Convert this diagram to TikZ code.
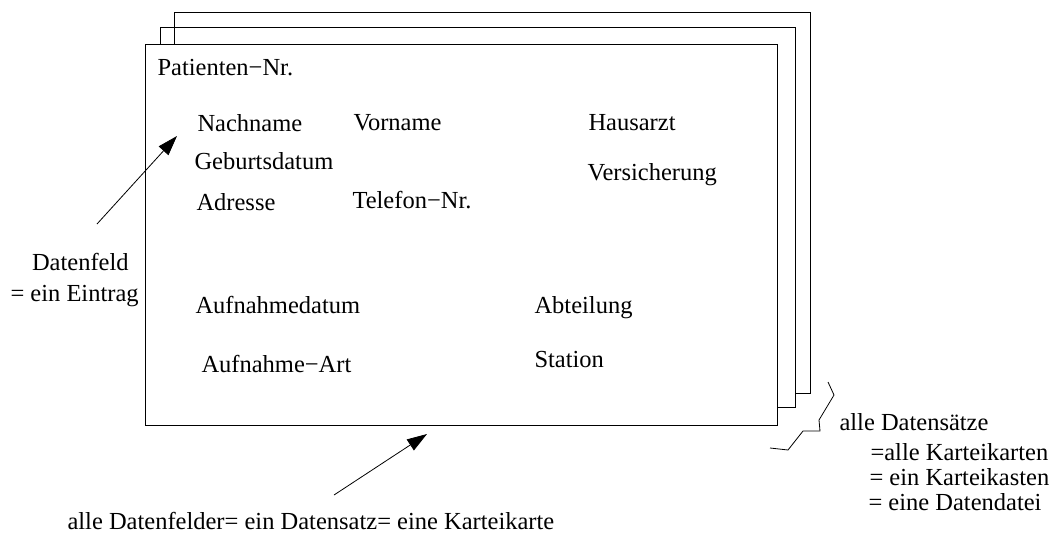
\documentclass[tikz,border=0pt]{standalone}
\usepackage{fontspec}
\setmainfont{Liberation Serif}
\usetikzlibrary{arrows.meta}
\tikzset{
  field/.style={anchor=base west, inner sep=0pt},
  pointer/.style={-{Triangle[length=20pt,width=13pt]}, line width=0.8pt}
}
\begin{document}
\begin{tikzpicture}[x=1pt,y=-1pt,line width=1pt]
        \useasboundingbox (0,0) rectangle (1056,533);
        \fontsize{24.5}{29}\selectfont
        % --- Draw the stack of cards ---
        \draw (174,44) -- (174,12) -- (810,12) -- (810,393) -- (795,393);
        \draw (160,44) -- (160,27) -- (795,27) -- (795,407) -- (777,407);
        \draw (145,44) rectangle (777,425);
        % ---

        % --- Fields of one card ---
        \node[field] (patnr) at (157,75.5) {Patienten−Nr.};
        \node[field] (nachname) at (197,131.5) {Nachname};
        \node[field] (vorname) at (353,130) {Vorname};
        \node[field] (hausarzt) at (588,130) {Hausarzt};
        \node[field] (geburt) at (194,169.5) {Geburtsdatum};
        \node[field] (versich) at (587,180.5) {Versicherung};
        \node[field] (adresse) at (196,210) {Adresse};
        \node[field] (telefon) at (352,208.5) {Telefon−Nr.};
        \node[field] (aufndat) at (195,313) {Aufnahmedatum};
        \node[field] (abteil) at (534,313) {Abteilung};
        \node[field] (aufnart) at (201,372) {Aufnahme−Art};
        \node[field] (station) at (534,367) {Station};
        % ---

        % --- Datenfeld label and arrow ---
        \node[field] (feld) at (31.5,270) {Datenfeld};
        \node[field] (eintrag) at (10,301.5) {= ein Eintrag};
        \coordinate (feldTip) at (177,136);
        \coordinate (feldTail) at (97,224);
        \draw[pointer] (feldTail) -- (feldTip);
        % ---

        % --- Datensatz label and arrow ---
        \node[field] (satz) at (67,529) {alle Datenfelder= ein Datensatz= eine Karteikarte};
        \coordinate (satzTip) at (427,434);
        \coordinate (satzTail) at (334,495);
        \draw[pointer] (satzTail) -- (satzTip);
        % ---

        % --- Brace and Datendatei label ---
        \draw[line width=0.8pt] (828,382) -- (834,395) -- (819,420) -- (820,431) -- (803,431) -- (788,450) -- (770,448);
        \node[field] (alle) at (839,430.5) {alle Datensätze};
        \node[field] (karten) at (870,460.5) {=alle Karteikarten};
        \node[field] (kasten) at (869,485.5) {= ein Karteikasten};
        \node[field] (datei) at (868,510) {= eine Datendatei};
        % ---
    \end{tikzpicture}
\end{document}
